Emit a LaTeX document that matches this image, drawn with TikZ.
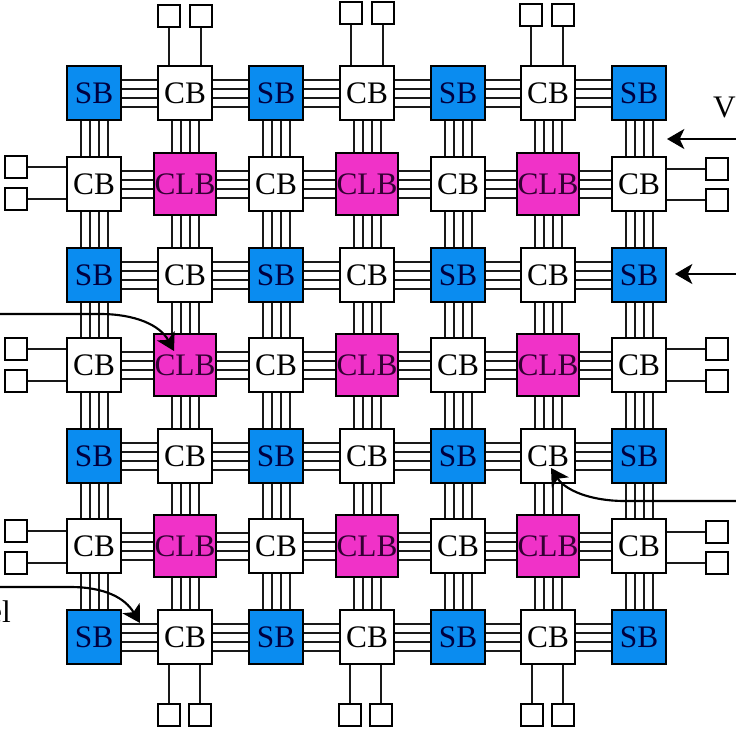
\documentclass[tikz,border=0pt]{standalone}
\usepackage{fontspec}
\setmainfont{Liberation Serif}
\usetikzlibrary{arrows.meta, positioning, calc}
\definecolor{sbblue}{RGB}{10,140,240}
\definecolor{clbpink}{RGB}{240,50,200}
\begin{document}
\begin{tikzpicture}[
    x=0.75pt, y=-0.75pt,
    font=\fontsize{23.5pt}{25pt}\selectfont,
    boxbase/.style={rectangle, draw=black, line width=1.6pt, inner sep=0pt, text=black},
    boxSB/.style={boxbase, minimum size=40.5pt, fill=sbblue, text=blue!25!black},
    boxCB/.style={boxbase, minimum size=40.5pt, fill=white},
    boxCLB/.style={boxbase, minimum size=47pt, fill=clbpink, text=violet!40!black},
    pad/.style={rectangle, draw=black, line width=1.6pt, minimum size=16.5pt, inner sep=0pt, fill=white},
    wire/.style={draw=black!90, line width=1.5pt},
    arrow/.style={-{Stealth[length=13pt, width=15pt, inset=3.5pt]}, draw=black, line width=1.6pt}
]
\useasboundingbox (0,0) rectangle (736,732);

% Grid of blocks
\foreach \cx [count=\c] in {94,185,276,367,458,548,639}
  \foreach \cy [count=\r] in {93,184,275,365,456,546,637} {
    \ifodd\r
      \ifodd\c \def\kind{SB}\else \def\kind{CB}\fi
    \else
      \ifodd\c \def\kind{CB}\else \def\kind{CLB}\fi
    \fi
    \node[box\kind] (n\r\c) at (\cx,\cy) {\kind};
  }

% Routing channels
\foreach \o in {-13.5,-4.5,4.5,13.5} {
  \foreach \r in {1,...,7}
    \foreach \c/\d in {1/2,2/3,3/4,4/5,5/6,6/7}
      \draw[wire] ([yshift=\o*0.75pt]n\r\c.east) -- ([yshift=\o*0.75pt]n\r\d.west);
  \foreach \c in {1,...,7}
    \foreach \r/\s in {1/2,2/3,3/4,4/5,5/6,6/7}
      \draw[wire] ([xshift=\o*0.75pt]n\r\c.south) -- ([xshift=\o*0.75pt]n\s\c.north);
}

% I/O pads
\foreach \c/\xa/\xb/\ya in {2/169/201/16,4/351/383/13,6/531/563/15} {
  \node[pad] (top\c a) at (\xa,\ya) {};
  \node[pad] (top\c b) at (\xb,\ya) {};
  \draw[wire] (top\c a.south) -- (top\c a.south |- n1\c.north);
  \draw[wire] (top\c b.south) -- (top\c b.south |- n1\c.north);
}
\foreach \c/\xa/\xb in {2/169/200,4/350/381,6/532/563} {
  \node[pad] (bot\c a) at (\xa,715) {};
  \node[pad] (bot\c b) at (\xb,715) {};
  \draw[wire] (bot\c a.north) -- (bot\c a.north |- n7\c.south);
  \draw[wire] (bot\c b.north) -- (bot\c b.north |- n7\c.south);
}
\foreach \r/\ya/\yb in {2/167/199,4/349/381,6/531/563} {
  \node[pad] (left\r a) at (16,\ya) {};
  \node[pad] (left\r b) at (16,\yb) {};
  \draw[wire] (left\r a.east) -- (left\r a.east -| n\r1.west);
  \draw[wire] (left\r b.east) -- (left\r b.east -| n\r1.west);
}
\foreach \r/\ya/\yb in {2/169/200,4/349/381,6/532/563} {
  \node[pad] (right\r a) at (717,\ya) {};
  \node[pad] (right\r b) at (717,\yb) {};
  \draw[wire] (right\r a.west) -- (right\r a.west -| n\r7.east);
  \draw[wire] (right\r b.west) -- (right\r b.west -| n\r7.east);
}

% Cut-off labels
\node[anchor=base east, inner sep=0pt] (lblv) at (736,117) {V};
\node[anchor=base east, inner sep=0pt] (lblel) at (11,622) {el};

% Callout arrows
\coordinate (fromv) at (736,139);
\coordinate (fromsb) at (736,274);
\coordinate (fromclb) at (0,314);
\coordinate (fromcb) at (736,501);
\coordinate (fromch) at (0,587);
\coordinate (tipv) at (667,139);
\coordinate (tipsb) at (675,274);
\coordinate (tipclb) at (174,351);
\coordinate (tipcb) at (551,468);
\coordinate (tipch) at (140,623);
\draw[arrow] (fromv) -- (tipv);
\draw[arrow] (fromsb) -- (tipsb);
\draw[arrow] (fromclb) -- (100,314) .. controls (135,314) and (160,325) .. (tipclb);
\draw[arrow] (fromcb) -- (625,501) .. controls (590,501) and (565,490) .. (tipcb);
\draw[arrow] (fromch) -- (70,587) .. controls (105,587) and (125,598) .. (tipch);
\end{tikzpicture}
\end{document}
